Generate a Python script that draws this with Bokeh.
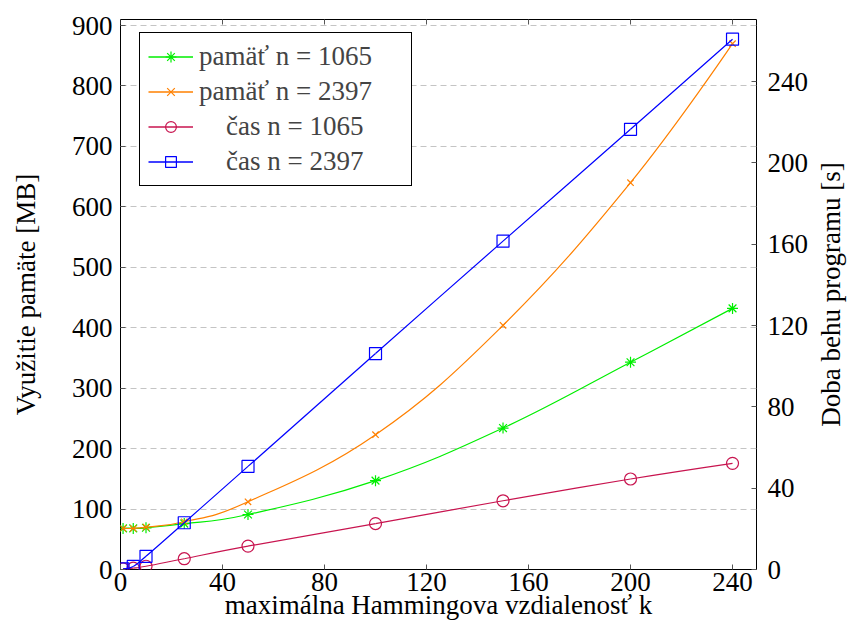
import math
from bokeh.plotting import figure
from bokeh.models import (Range1d, LinearAxis, Legend, LegendItem, Label,
                          ColumnDataSource, FixedTicker)
from bokeh.embed import file_html
from bokeh.resources import INLINE

# ---- data ----
k_values = [1, 5, 10, 25, 50, 100, 150, 200, 240]
mem_1065 = [68, 68, 69, 76, 91, 147, 234, 343, 432]
mem_2397 = [68, 68, 70, 79, 112, 223, 404, 640, 870]
time_1065 = [0.3, 0.7, 1.6, 5.3, 11.5, 22.6, 33.8, 44.5, 52.2]
time_2397 = [0.3, 1.5, 6.5, 23.0, 50.7, 106.2, 161.5, 216.5, 260.8]

labels = ["pam\u00e4\u0165 n = 1065", "pam\u00e4\u0165 n = 2397",
          "\u2002\u2002\u010das n = 1065", "\u2002\u2002\u010das n = 2397"]
x_ticks = [0, 40, 80, 120, 160, 200, 240]
left_ticks = [0, 100, 200, 300, 400, 500, 600, 700, 800, 900]
right_ticks = [0, 40, 80, 120, 160, 200, 240]
x_title = "maxim\u00e1lna Hammingova vzdialenos\u0165 k"
y_title = "Vyu\u017eitie pam\u00e4te [MB]"
y2_title = "Doba behu programu [s]"

X_MAX = 249.4
Y_MAX = 910
Y2_MAX = 270.5

FONT = "Liberation Serif"
FS = "27px"

W, H = 847, 628
B_LEFT, B_RIGHT, B_TOP, B_BOTTOM = 120, 91, 19, 59
FRAME_H = H - B_TOP - B_BOTTOM

p = figure(width=W, height=H, output_backend="svg", toolbar_location=None,
           x_range=Range1d(0, X_MAX), y_range=Range1d(0, Y_MAX),
           min_border_left=B_LEFT, min_border_right=B_RIGHT, min_border_top=B_TOP,
           min_border_bottom=B_BOTTOM)
p.extra_y_ranges = {"right": Range1d(0, Y2_MAX)}
p.outline_line_color = "black"
p.outline_line_width = 1
p.outline_line_alpha = 1
p.background_fill_color = "white"
p.xgrid.grid_line_color = None
p.ygrid.grid_line_color = "#c4c4c4"
p.ygrid.grid_line_dash = "6 4"
p.ygrid.grid_line_width = 1


def style_axis(ax, label_standoff=6, axis_standoff=14):
    ax.major_tick_in = 5
    ax.major_tick_out = 0
    ax.minor_tick_line_color = None
    ax.major_tick_line_color = "#555555"
    ax.axis_line_color = None
    ax.major_label_text_font = FONT
    ax.major_label_text_font_size = FS
    ax.major_label_text_color = "black"
    ax.axis_label_text_font = FONT
    ax.axis_label_text_font_size = FS
    ax.axis_label_text_font_style = "normal"
    ax.axis_label_text_color = "black"
    ax.major_label_standoff = label_standoff
    ax.axis_label_standoff = axis_standoff


p.xaxis.ticker = FixedTicker(ticks=x_ticks)
p.xaxis.axis_label = x_title
style_axis(p.xaxis[0], 3, -4)
p.yaxis.ticker = FixedTicker(ticks=left_ticks)
p.yaxis.axis_label = y_title
style_axis(p.yaxis[0], 8, 28)

right_axis = LinearAxis(y_range_name="right", ticker=FixedTicker(ticks=right_ticks))
style_axis(right_axis, 11, 9)
p.add_layout(right_axis, "right")

# right-hand axis title, reading bottom to top, in its own side panel
p.add_layout(Label(x=19, y=FRAME_H / 2, x_units="screen", y_units="screen",
                   text=y2_title, angle=math.pi / 2, text_align="center",
                   text_baseline="middle", text_font=FONT, text_font_size=FS,
                   text_color="black"), "right")

# inward tick marks along the top edge of the frame
p.scatter(x_ticks, [Y_MAX] * len(x_ticks), marker="dash", angle=math.pi / 2,
          size=10, line_color="#555555", line_width=1)

TENSION = 0.2


def smooth_curve(xs, ys, color, y_range_name="default"):
    n = len(xs)
    tx, ty = [], []
    for i in range(n):
        if i == 0 or i == n - 1:
            tx.append(0.0)
            ty.append(0.0)
        else:
            tx.append(xs[i + 1] - xs[i - 1])
            ty.append(ys[i + 1] - ys[i - 1])
    src = ColumnDataSource(dict(
        x0=xs[:-1], y0=ys[:-1], x1=xs[1:], y1=ys[1:],
        cx0=[xs[i] + TENSION * tx[i] for i in range(n - 1)],
        cy0=[ys[i] + TENSION * ty[i] for i in range(n - 1)],
        cx1=[xs[i + 1] - TENSION * tx[i + 1] for i in range(n - 1)],
        cy1=[ys[i + 1] - TENSION * ty[i + 1] for i in range(n - 1)],
    ))
    return p.bezier(x0="x0", y0="y0", x1="x1", y1="y1", cx0="cx0", cy0="cy0",
                    cx1="cx1", cy1="cy1", source=src, line_color=color,
                    line_width=1.2, y_range_name=y_range_name)


series = [
    (mem_1065, "#00ee00", "asterisk", 11, "default"),
    (mem_2397, "#ff8000", "x", 9, "default"),
    (time_1065, "#c8144f", "circle", 12, "right"),
    (time_2397, "#0000ff", "square", 12, "right"),
]

items = []
for (ys, color, marker, size, rname), label in zip(series, labels):
    smooth_curve(k_values, ys, color, rname)
    sc = p.scatter(k_values, ys, marker=marker, size=size, line_color=color,
                   fill_alpha=0, line_width=1.2, y_range_name=rname)
    leg_line = p.line(x=[float("nan")], y=[float("nan")], line_color=color,
                      line_width=1.6, y_range_name=rname)
    items.append(LegendItem(label=label, renderers=[leg_line, sc]))

legend = Legend(items=items, location=(19, 383), margin=0,
                label_text_font=FONT, label_text_font_size=FS,
                label_height=27, glyph_height=27, glyph_width=45,
                label_width=204, label_standoff=6, spacing=4, padding=8,
                border_line_color="black", border_line_width=1,
                border_line_alpha=1, background_fill_alpha=1)
p.add_layout(legend, "center")

open("out.html", "w").write(file_html(p, INLINE))
